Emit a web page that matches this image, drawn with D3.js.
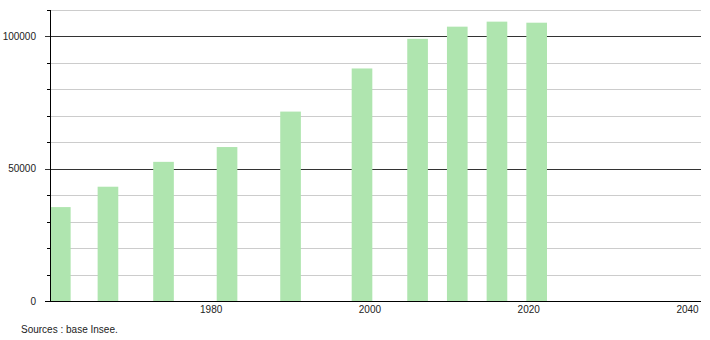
<!DOCTYPE html>
<html lang="fr">
    <head>
        <meta charset="utf-8">
        <title>Population</title>
        <script type="text/javascript" src="https://d3js.org/d3.v7.min.js"></script>
        <style type="text/css">
            body { margin: 0; background: #fff; }
            text { font-family: "Liberation Sans", Arial, sans-serif; font-size: 10px; fill: #222; }
        </style>
    </head>
    <body>
        <script type="text/javascript">

        //Data
        const years = [1961, 1967, 1974, 1982, 1990, 1999, 2006, 2011, 2016, 2021];
        const population = [35500, 43200, 52600, 58200, 71600, 87900, 99100, 103700, 105600, 105200];
        const xTicks = [1980, 2000, 2020, 2040];
        const yTicks = [0, 50000, 100000];
        const source = "Sources : base Insee.";

        //Layout
        const width = 710;
        const height = 340;
        const plotLeft = 50, plotRight = 701, plotTop = 10, plotBottom = 301;
        const barYears = 2.6; // bar width in years

        const xScale = d3.scaleLinear()
                        .domain([1959.7, 2041.7])
                        .range([plotLeft, plotRight]);

        const yScale = d3.scaleLinear()
                        .domain([0, 110000])
                        .range([plotBottom, plotTop]);

        const svg = d3.select("body")
                    .append("svg")
                    .attr("width", width)
                    .attr("height", height);

        //Grid lines every 10000, darker at the labelled values
        const gridVals = d3.range(10000, 110001, 10000);
        svg.append("g")
            .selectAll("line")
            .data(gridVals)
            .enter()
            .append("line")
            .attr("x1", d => yTicks.includes(d) ? plotLeft - 5 : plotLeft)
            .attr("x2", plotRight)
            .attr("y1", d => Math.round(yScale(d)) + 0.5)
            .attr("y2", d => Math.round(yScale(d)) + 0.5)
            .attr("stroke", d => yTicks.includes(d) ? "#333" : "#ccc")
            .attr("stroke-width", 1);

        //minor tick marks
        svg.append("g")
            .selectAll("line")
            .data(gridVals.filter(d => !yTicks.includes(d)))
            .enter()
            .append("line")
            .attr("x1", plotLeft - 3)
            .attr("x2", plotLeft)
            .attr("y1", d => Math.round(yScale(d)) + 0.5)
            .attr("y2", d => Math.round(yScale(d)) + 0.5)
            .attr("stroke", "#000");

        //Bars
        svg.append("g")
            .selectAll("rect")
            .data(years)
            .enter()
            .append("rect")
            .attr("x", d => xScale(d - barYears / 2))
            .attr("y", (d, i) => yScale(population[i]))
            .attr("width", d => xScale(d + barYears / 2) - xScale(d - barYears / 2))
            .attr("height", (d, i) => yScale(0) - yScale(population[i]))
            .attr("fill", "#afe5af");

        //Axes lines
        svg.append("line")
            .attr("x1", plotLeft + 0.5).attr("x2", plotLeft + 0.5)
            .attr("y1", plotTop).attr("y2", plotBottom + 1)
            .attr("stroke", "#000");
        svg.append("line")
            .attr("x1", plotLeft - 5).attr("x2", plotRight)
            .attr("y1", plotBottom + 0.5).attr("y2", plotBottom + 0.5)
            .attr("stroke", "#000");

        //Y labels
        svg.append("g")
            .selectAll("text")
            .data(yTicks)
            .enter()
            .append("text")
            .attr("x", plotLeft - 14)
            .attr("y", d => yScale(d) + 3.5)
            .attr("text-anchor", "end")
            .text(d => d);

        //X labels
        svg.append("g")
            .selectAll("text")
            .data(xTicks)
            .enter()
            .append("text")
            .attr("x", d => xScale(d))
            .attr("y", plotBottom + 12)
            .attr("text-anchor", "middle")
            .text(d => d);

        svg.append("text")
            .attr("x", 21)
            .attr("y", 333)
            .text(source);

        </script>
    </body>
</html>
